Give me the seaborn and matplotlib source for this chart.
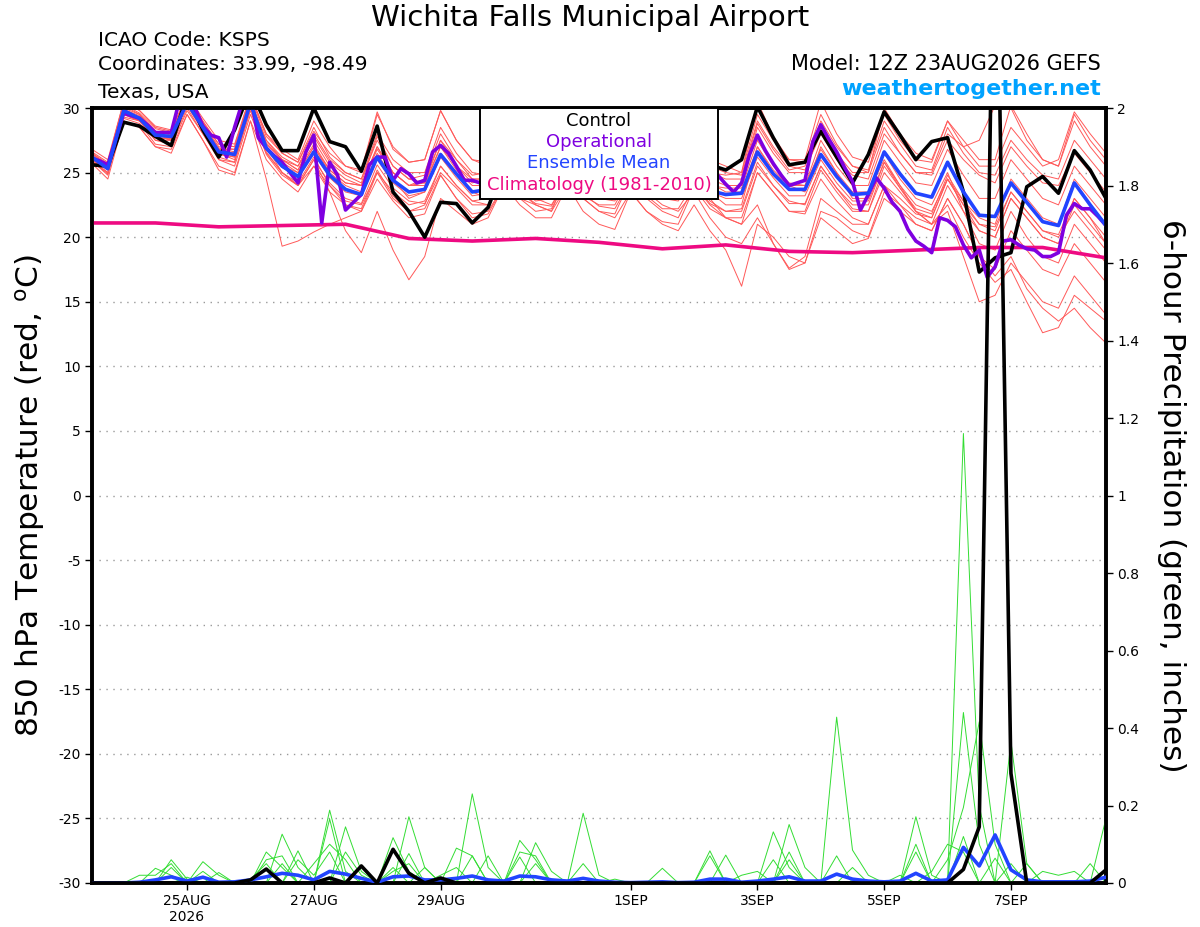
import numpy as np
import pandas as pd
import matplotlib
matplotlib.use("Agg")
import matplotlib.pyplot as plt
from matplotlib.patches import Rectangle
import seaborn as sns

# ---- forecast data (read off the GEFS plume) ----
# 6-hourly, 12Z 23AUG2026 -> 12Z 08SEP2026 (65 steps)
control_temp = [25.6, 25.5, 28.9, 28.6, 27.8, 27.1, 31.0, 28.3, 26.2, 28.3, 31.5, 28.7, 26.7,
                26.7, 30.0, 27.4, 27.0, 25.1, 28.6, 23.5, 22.0, 20.0, 22.7, 22.6, 21.1, 22.3,
                25.5, 24.2, 23.8, 24.5, 27.5, 25.6, 24.8, 24.6, 27.8, 26.0, 25.2, 25.0, 27.4,
                25.6, 25.2, 26.0, 30.1, 27.7, 25.6, 25.8, 28.2, 26.2, 24.2, 26.4, 29.7, 27.9,
                26.0, 27.4, 27.7, 23.5, 17.3, 18.4, 18.8, 23.9, 24.7, 23.4, 26.7, 25.2, 23.0]

mean_temp = [26.2, 25.3, 29.8, 29.2, 27.9, 27.8, 30.4, 28.5, 26.6, 26.4, 30.4, 26.9, 25.5,
             24.7, 26.6, 24.8, 23.7, 23.3, 26.2, 24.4, 23.5, 23.7, 26.4, 24.9, 23.5, 23.7,
             25.8, 24.5, 23.6, 23.6, 25.6, 24.4, 23.5, 23.4, 25.7, 24.5, 23.7, 23.6, 25.4,
             23.6, 23.3, 23.4, 26.6, 24.9, 23.7, 23.7, 26.4, 24.7, 23.3, 23.4, 26.6, 24.9,
             23.4, 23.1, 25.8, 23.5, 21.7, 21.6, 24.2, 22.7, 21.2, 20.9, 24.2, 22.5, 20.9]

# operational run is 3-hourly (129 steps)
oper_temp = [26.1, 25.9, 25.6, 27.6, 29.6, 29.4, 29.2, 28.7, 28.1, 28.1, 28.1, 30.5, 31.5,
             30.0, 28.6, 27.9, 27.7, 26.2, 28.5, 30.5, 31.0, 27.7, 26.9, 26.3, 25.8, 25.0,
             24.2, 26.6, 27.9, 21.1, 25.8, 24.8, 22.1, 22.7, 23.3, 25.6, 26.2, 26.2, 24.4,
             25.3, 24.9, 24.2, 24.4, 26.6, 27.1, 26.5, 25.5, 24.4, 24.4, 24.2,
             24.5, 25.2, 26.0, 25.4, 24.8, 24.3, 24.0, 23.9, 24.2, 24.9, 25.8, 25.2, 24.6,
             24.2, 23.9, 23.8, 24.1, 24.9, 26.0, 25.4, 24.6, 24.2, 23.8, 23.7, 24.2, 25.0,
             25.9, 25.3, 25.0,
             24.8, 24.1, 23.5, 24.2, 26.4, 27.9, 26.7, 25.7, 24.8, 24.0, 24.2, 24.4, 27.4,
             28.7, 27.6, 26.6, 25.4, 24.3, 22.1, 23.3, 24.6, 23.8, 22.7, 22.0, 20.6, 19.7,
             19.3, 18.8, 21.5, 21.3, 20.8, 19.4, 18.4, 19.0, 16.9, 17.7, 19.7, 19.8, 19.4,
             19.1, 19.0, 18.5, 18.5, 18.8, 21.7, 22.6, 22.2, 22.2, 21.6, 20.9]

# daily climatology (1981-2010), 12Z values
clim_temp = [21.1, 21.1, 20.8, 20.9, 21.0, 19.9, 19.7, 19.9, 19.6, 19.1, 19.4, 18.9, 18.8,
             19.0, 19.2, 19.2, 18.4]

# ensemble members, 850 hPa temperature
m01 = [26.8, 26.0, 30.5, 29.8, 28.5, 28.2, 31.0, 29.0, 27.2, 27.0, 31.0, 28.0, 26.8, 26.0, 29.0, 27.0, 25.5,
       25.0, 29.5, 27.0, 25.8, 26.0, 29.8, 27.5, 26.0, 25.5, 28.0, 26.5, 25.0, 25.0, 27.5, 26.0, 25.0,
       24.8, 28.0, 26.5, 25.5, 25.0, 27.0, 25.0, 24.8, 25.0, 30.5, 27.8, 26.0, 25.8, 29.5, 27.2, 25.5,
       25.0, 30.0, 28.0, 26.5, 26.0, 29.0, 27.5, 26.0, 26.0, 30.2, 28.0, 26.0, 25.5, 29.5, 27.5, 26.0]
m02 = [25.8, 25.0, 29.0, 28.5, 27.0, 26.8, 29.5, 27.5, 25.5, 25.0, 29.0, 24.5, 19.3, 19.7, 20.4, 21.0, 21.5,
       22.0, 25.0, 23.0, 22.0, 22.5, 25.5, 24.0, 22.8, 23.0, 24.5, 23.5, 22.5, 22.0, 24.0, 23.0, 22.0,
       21.8, 24.5, 23.0, 22.0, 21.5, 24.0, 22.5, 21.5, 21.0, 25.0, 23.5, 22.0, 21.8, 24.5, 22.8, 21.5,
       21.0, 24.0, 22.5, 21.0, 20.5, 23.0, 21.0, 18.5, 17.5, 20.5, 19.0, 17.5, 17.0, 19.5, 18.0, 16.5]
m03 = [26.5, 25.5, 30.0, 29.5, 28.0, 27.5, 30.5, 28.8, 26.0, 25.8, 30.0, 27.0, 25.0, 24.0, 26.0, 23.5, 20.5,
       18.8, 22.0, 19.0, 16.7, 18.5, 23.0, 22.0, 21.0, 21.5, 24.0, 23.0, 22.5, 22.0, 25.0, 24.0, 23.0,
       23.0, 25.5, 24.5, 23.5, 23.0, 25.0, 23.5, 22.5, 22.5, 27.0, 25.0, 24.0, 23.5, 27.0, 25.0, 23.0,
       23.0, 26.5, 24.5, 23.0, 22.5, 25.0, 22.0, 19.5, 19.0, 22.0, 20.0, 18.5, 18.0, 21.0, 19.5, 18.0]
m04 = [26.0, 25.2, 29.5, 29.0, 27.5, 27.5, 30.2, 28.2, 26.5, 26.0, 30.2, 27.0, 25.5, 25.0, 27.0, 25.0, 24.0,
       23.5, 26.5, 24.5, 23.0, 23.5, 26.5, 25.0, 23.5, 23.0, 25.5, 24.0, 23.0, 22.5, 24.5, 23.0, 22.0,
       21.5, 23.5, 22.0, 21.0, 20.5, 22.5, 20.5, 19.0, 16.2, 21.0, 20.0, 18.5, 18.0, 22.0, 21.5, 20.5,
       20.0, 23.5, 22.5, 21.5, 21.0, 24.0, 22.0, 20.5, 20.0, 23.0, 21.5, 20.0, 19.5, 22.5, 21.0, 19.5]
m05 = [26.3, 25.5, 29.8, 29.0, 28.0, 27.8, 30.4, 28.5, 26.8, 26.5, 30.5, 27.5, 26.0, 25.5, 27.5, 25.5, 24.5,
       24.0, 27.0, 25.0, 24.0, 24.0, 27.0, 25.5, 24.5, 24.5, 26.5, 25.0, 24.0, 24.0, 26.0, 24.5, 23.5,
       23.5, 26.0, 24.5, 23.5, 23.0, 25.0, 23.0, 21.5, 21.0, 22.5, 19.5, 17.5, 18.0, 21.5, 20.5, 19.5,
       19.9, 23.0, 22.0, 21.0, 20.5, 23.0, 21.0, 18.5, 17.0, 18.5, 16.0, 14.5, 13.5, 14.5, 13.0, 11.8]
m06 = [26.0, 25.0, 29.5, 29.0, 27.8, 27.5, 30.5, 28.6, 26.8, 26.8, 30.3, 27.2, 26.0, 25.2, 27.2, 25.2, 24.2,
       24.0, 26.8, 25.0, 24.0, 24.2, 27.0, 25.2, 24.0, 24.0, 26.2, 25.0, 24.0, 24.2, 26.5, 25.0, 24.0,
       24.0, 26.2, 25.0, 24.0, 24.0, 26.0, 24.2, 23.5, 23.5, 27.0, 25.2, 24.0, 24.0, 26.8, 25.0, 23.5,
       23.5, 26.0, 24.0, 22.0, 21.0, 22.5, 20.0, 18.0, 16.5, 17.5, 15.0, 12.6, 13.0, 15.5, 14.5, 13.5]
m07 = [26.4, 25.6, 30.2, 29.5, 28.2, 28.0, 30.8, 28.8, 27.0, 26.8, 30.6, 27.5, 26.2, 25.5, 28.0, 26.0, 25.0,
       24.5, 27.5, 25.5, 24.5, 24.2, 27.5, 26.0, 24.5, 24.5, 27.0, 25.5, 24.5, 24.5, 26.5, 25.0, 24.5,
       24.5, 27.0, 25.5, 24.5, 24.2, 26.5, 24.5, 24.0, 24.0, 28.5, 26.5, 25.0, 25.0, 28.5, 26.5, 25.0,
       25.0, 28.5, 26.5, 25.0, 25.0, 28.0, 27.0, 27.5, 30.2, 30.0, 27.5, 26.0, 25.5, 29.0, 27.0, 25.5]
m08 = [25.9, 24.8, 29.2, 28.8, 27.2, 27.0, 29.8, 28.0, 26.0, 25.5, 29.5, 26.5, 25.0, 24.0, 25.5, 24.0, 22.8,
       22.5, 25.0, 23.5, 22.5, 22.8, 25.5, 24.0, 22.8, 22.5, 25.0, 23.8, 22.8, 23.0, 25.0, 24.0, 23.0,
       22.8, 25.0, 23.8, 23.0, 22.8, 24.5, 22.8, 22.0, 22.0, 25.5, 24.0, 22.8, 22.5, 25.5, 23.8, 22.5,
       22.5, 25.8, 24.0, 22.5, 22.0, 24.5, 22.5, 20.5, 20.0, 23.0, 21.5, 20.0, 19.5, 23.0, 21.5, 19.5]
m09 = [26.6, 25.8, 30.5, 29.8, 28.6, 28.3, 31.0, 29.2, 27.5, 27.2, 31.0, 28.0, 26.5, 25.8, 28.5, 26.2, 25.0,
       24.5, 28.0, 26.0, 25.0, 25.0, 28.5, 26.5, 25.0, 24.8, 26.5, 25.2, 24.2, 24.0, 26.0, 24.8, 23.8,
       23.8, 26.2, 25.0, 24.0, 24.0, 25.8, 24.0, 23.8, 23.8, 27.5, 25.5, 24.2, 24.0, 27.5, 25.5, 24.0,
       24.0, 27.5, 25.8, 24.2, 24.0, 26.8, 24.8, 23.0, 23.0, 26.0, 24.5, 23.0, 22.5, 25.5, 24.0, 22.5]
m10 = [25.7, 24.5, 29.0, 28.5, 27.0, 26.5, 29.5, 27.5, 25.2, 24.8, 29.0, 26.0, 24.5, 23.5, 25.5, 23.5, 22.5,
       22.0, 24.5, 22.8, 21.5, 21.8, 24.8, 23.0, 21.8, 22.0, 24.0, 23.0, 22.0, 22.2, 24.5, 23.2, 22.5,
       22.5, 24.8, 23.5, 22.5, 22.0, 23.5, 21.5, 20.0, 19.5, 21.5, 19.5, 17.6, 18.5, 23.0, 22.0, 21.0,
       21.0, 24.0, 23.0, 21.8, 21.5, 24.5, 22.5, 21.0, 20.8, 23.5, 22.0, 20.5, 20.0, 22.0, 20.5, 19.0]
m11 = [26.2, 25.4, 29.6, 29.2, 28.0, 27.8, 30.4, 28.4, 26.6, 26.4, 30.4, 27.0, 25.8, 25.0, 27.0, 25.2, 24.2,
       24.0, 27.0, 25.0, 24.0, 24.5, 27.5, 25.5, 24.2, 24.5, 27.0, 25.5, 24.5, 24.5, 27.0, 25.5, 24.5,
       24.8, 27.5, 25.8, 24.8, 24.8, 27.0, 25.0, 24.5, 24.5, 28.8, 26.8, 25.2, 25.5, 29.0, 27.0, 25.5,
       25.2, 29.0, 27.2, 25.5, 25.2, 28.5, 26.5, 25.0, 24.8, 27.5, 26.0, 24.8, 24.5, 27.5, 26.0, 24.5]
m12 = [26.1, 25.2, 29.7, 29.0, 27.7, 27.6, 30.2, 28.4, 26.5, 26.2, 30.2, 26.8, 25.4, 24.6, 26.5, 24.6, 23.5,
       23.2, 26.0, 24.2, 23.2, 23.5, 26.2, 24.6, 23.2, 23.4, 25.5, 24.2, 23.2, 23.2, 25.2, 24.0, 23.0,
       23.0, 25.2, 24.0, 23.2, 23.2, 25.2, 23.5, 23.0, 23.0, 26.2, 24.6, 23.2, 23.2, 26.0, 24.2, 22.8,
       22.8, 25.8, 23.8, 22.0, 21.0, 22.0, 18.5, 15.0, 15.5, 18.0, 16.5, 15.0, 14.5, 17.0, 15.5, 14.0]
m13 = [26.5, 25.7, 30.3, 29.6, 28.4, 28.1, 30.8, 28.9, 27.2, 27.0, 30.8, 27.8, 26.5, 25.8, 28.2, 26.5, 25.5,
       25.2, 29.7, 26.8, 25.8, 26.0, 29.8, 27.5, 26.0, 25.8, 28.5, 27.0, 26.0, 25.8, 28.0, 26.5, 25.5,
       25.5, 28.2, 26.8, 25.8, 25.5, 27.8, 26.0, 25.5, 25.0, 29.5, 27.5, 26.0, 26.0, 30.5, 28.0, 26.2,
       25.8, 29.5, 27.5, 26.0, 25.8, 29.0, 27.0, 25.5, 25.5, 28.5, 27.0, 25.5, 26.0, 29.7, 28.0, 26.5]
m14 = [25.9, 24.9, 29.3, 29.0, 27.5, 27.2, 30.0, 28.0, 26.2, 25.8, 29.8, 26.4, 24.8, 24.0, 26.0, 24.2, 23.0,
       22.6, 25.6, 23.8, 22.8, 22.6, 25.0, 23.8, 22.5, 22.5, 24.8, 23.5, 22.6, 22.4, 24.6, 23.4, 22.4,
       22.2, 24.4, 23.2, 22.2, 22.2, 24.2, 22.6, 22.0, 22.2, 25.8, 24.0, 22.6, 22.6, 25.5, 23.8, 22.2,
       22.0, 25.5, 23.8, 22.2, 21.8, 24.8, 22.8, 21.0, 20.5, 23.5, 22.0, 20.5, 20.2, 23.0, 21.5, 20.0]
m15 = [26.3, 25.3, 29.8, 29.3, 28.0, 27.6, 30.3, 28.3, 26.4, 26.2, 30.0, 26.6, 25.0, 24.2, 26.2, 24.0, 22.5,
       22.2, 25.2, 23.2, 22.0, 22.2, 24.8, 23.0, 21.5, 21.8, 24.0, 22.5, 21.5, 21.5, 24.0, 22.0, 21.0,
       20.6, 23.5, 22.0, 21.2, 21.0, 23.8, 22.2, 21.5, 21.5, 25.0, 23.5, 22.0, 22.0, 25.2, 23.5, 22.0,
       22.0, 25.0, 23.5, 22.0, 21.5, 24.5, 22.8, 21.5, 21.0, 24.5, 23.0, 21.5, 21.0, 24.5, 23.0, 21.5]
m16 = [26.2, 25.3, 29.9, 29.4, 28.2, 27.9, 30.6, 28.7, 26.9, 26.6, 30.6, 27.3, 26.0, 25.2, 27.8, 25.8, 24.8,
       24.2, 27.8, 25.5, 24.5, 24.8, 28.0, 26.0, 24.8, 25.0, 27.5, 26.0, 25.0, 25.0, 27.8, 26.0, 25.0,
       25.0, 27.5, 26.0, 25.2, 25.0, 27.5, 25.5, 25.0, 24.8, 29.0, 27.0, 25.5, 25.2, 28.0, 26.0, 24.8,
       24.5, 28.0, 26.5, 25.0, 24.8, 27.5, 26.0, 24.8, 24.2, 27.0, 25.5, 24.2, 24.0, 26.5, 25.0, 23.5]
temp_members = [m01, m02, m03, m04, m05, m06, m07, m08, m09, m10, m11, m12, m13, m14, m15, m16]

# 6-hour precipitation (inches)
control_pcp = [0, 0, 0, 0, 0, 0, 0, 0, 0, 0, 0.008, 0.036, 0, 0, 0, 0.013, 0,
               0.044, 0, 0.087, 0.025, 0, 0.013, 0, 0, 0, 0, 0, 0, 0, 0, 0, 0,
               0, 0, 0, 0, 0, 0, 0, 0, 0, 0, 0, 0, 0, 0, 0, 0,
               0, 0, 0, 0, 0, 0, 0.035, 0.145, 2.75, 0.283, 0, 0, 0, 0, 0, 0.034]
mean_pcp = [0, 0, 0, 0.002, 0.008, 0.016, 0.005, 0.015, 0.002, 0.003, 0.008, 0.016, 0.025,
            0.02, 0.008, 0.03, 0.023, 0.012, 0.002, 0.016, 0.018, 0.008, 0.008, 0.012, 0.018,
            0.008, 0.005, 0.018, 0.016, 0.008, 0.005, 0.012, 0.005, 0.002, 0.001, 0.002, 0.003,
            0.001, 0.002, 0.01, 0.01, 0.002, 0.005, 0.01, 0.016, 0.005, 0.005, 0.023, 0.01,
            0.005, 0.003, 0.005, 0.025, 0.005, 0.008, 0.092, 0.044, 0.124, 0.034, 0.008, 0.003,
            0.003, 0.003, 0.005, 0.015]

# members: {step index: amount}, all other steps dry
p01 = {4: 0.038, 5: 0.02, 11: 0.08, 12: 0.04, 15: 0.188, 16: 0.03, 20: 0.171, 21: 0.04, 27: 0.11,
       28: 0.06, 43: 0.132, 44: 0.04, 52: 0.171, 53: 0.02, 55: 1.16, 56: 0.2, 58: 0.05}
p02 = {5: 0.06, 6: 0.01, 12: 0.126, 13: 0.04, 16: 0.145, 17: 0.03, 24: 0.23, 25: 0.04, 31: 0.18,
       32: 0.02, 47: 0.428, 48: 0.085, 49: 0.02, 55: 0.44, 56: 0.1, 64: 0.167}
p03 = {7: 0.055, 8: 0.02, 13: 0.083, 15: 0.165, 19: 0.117, 20: 0.03, 23: 0.09, 24: 0.07, 28: 0.104,
       29: 0.03, 39: 0.083, 44: 0.151, 45: 0.04, 54: 0.06, 55: 0.195, 56: 0.416, 57: 0.1}
p04 = {3: 0.02, 4: 0.02, 5: 0.05, 8: 0.027, 11: 0.06, 12: 0.07, 16: 0.08, 17: 0.02, 20: 0.076,
       25: 0.07, 27: 0.067, 36: 0.038, 40: 0.072, 44: 0.08, 52: 0.1, 58: 0.365, 59: 0.05}
p05 = {5: 0.04, 7: 0.03, 10: 0.01, 11: 0.05, 13: 0.06, 14: 0.02, 15: 0.08, 19: 0.04, 21: 0.04,
       24: 0.07, 28: 0.05, 31: 0.05, 39: 0.07, 43: 0.06, 47: 0.07, 52: 0.08, 55: 0.12, 57: 0.064,
       59: 0.05, 63: 0.05}
p06 = {6: 0.015, 12: 0.05, 14: 0.05, 15: 0.1, 16: 0.06, 19: 0.03, 20: 0.05, 22: 0.02, 23: 0.04,
       27: 0.08, 28: 0.07, 33: 0.01, 41: 0.02, 42: 0.03, 44: 0.06, 48: 0.04, 51: 0.02, 53: 0.03,
       54: 0.1, 55: 0.08, 60: 0.03, 61: 0.02, 62: 0.03, 64: 0.03}
pcp_members = [p01, p02, p03, p04, p05, p06]

tick_days = ["2026-08-25", "2026-08-27", "2026-08-29", "2026-09-01", "2026-09-03",
             "2026-09-05", "2026-09-07"]
tick_labels = ["25AUG\n2026", "27AUG", "29AUG", "1SEP", "3SEP", "5SEP", "7SEP"]

# ---- build frames ----
times = pd.date_range("2026-08-23 12:00", periods=len(mean_temp), freq="6h")
times_oper = pd.date_range("2026-08-23 12:00", periods=len(oper_temp), freq="3h")
times_clim = pd.date_range("2026-08-23 12:00", periods=len(clim_temp), freq="D")

ens_t = pd.DataFrame([(k, times[i], v) for k, m in enumerate(temp_members) for i, v in enumerate(m)],
                     columns=["member", "time", "temp"])
rows = []
for k, p in enumerate(pcp_members):
    for i in range(len(times)):
        rows.append((k, times[i], p.get(i, 0.0)))
ens_p = pd.DataFrame(rows, columns=["member", "time", "pcp"])

# ---- plot ----
sns.set_style("ticks")
plt.rcParams["font.family"] = ["DejaVu Sans"]
plt.rcParams["axes.unicode_minus"] = False
for key in ("text.color", "axes.labelcolor", "xtick.color", "ytick.color"):
    plt.rcParams[key] = "black"

fig = plt.figure(figsize=(12, 9.27), dpi=100)
ax = fig.add_axes([92 / 1200, 1 - 883 / 927, 1014 / 1200, 775 / 927])
ax2 = ax.twinx()

red, green = "#ff5959", "#33dd33"
purple, blue, magenta = "#7f00e0", "#2244ff", "#ee0a82"

sns.lineplot(data=ens_t, x="time", y="temp", units="member", estimator=None,
             color=red, lw=0.7, ax=ax, legend=False)
ax.plot(times_clim, clim_temp, color=magenta, lw=2.6, zorder=3)
ax.plot(times, control_temp, color="black", lw=2.6, zorder=4)
ax.plot(times_oper, oper_temp, color=purple, lw=2.6, zorder=5)
ax.plot(times, mean_temp, color=blue, lw=2.6, zorder=6)

sns.lineplot(data=ens_p, x="time", y="pcp", units="member", estimator=None,
             color=green, lw=0.7, ax=ax2, legend=False)
ax2.plot(times, mean_pcp, color=blue, lw=2.6, zorder=4)
ax2.plot(times, control_pcp, color="black", lw=2.6, zorder=5)

ax.set_xlim(times[0], times[-1])
ax.set_ylim(-30, 30)
ax2.set_ylim(0, 2)
ax.set_yticks(np.arange(-30, 31, 5))
ax2.set_yticks(np.arange(0, 2.01, 0.2))
ax2.set_yticklabels([f"{v:g}" for v in np.round(np.arange(0, 2.01, 0.2), 1)])
ax.set_xticks(pd.to_datetime(tick_days))
ax.set_xticklabels(tick_labels)

ax.yaxis.grid(True, linestyle=(0, (1, 4)), color="#999999", lw=1.0)
ax.xaxis.grid(False)
ax.tick_params(axis="both", labelsize=10, length=5, width=1, direction="out", pad=3)
ax2.tick_params(axis="y", labelsize=10, length=5, width=1, direction="out", pad=3)
for a in (ax, ax2):
    for s in a.spines.values():
        s.set_linewidth(2.6)
        s.set_color("black")
        s.set_visible(True)

ax.set_xlabel("")
ax.set_ylabel("850 hPa Temperature (red, $^\\mathregular{o}$C)", fontsize=22.5, va="center")
ax.yaxis.set_label_coords(-0.061, 0.5)
ax2.set_ylabel("6-hour Precipitation (green, inches)", fontsize=22.5, rotation=-90, va="center")
ax2.yaxis.set_label_coords(1.065, 0.5)

# legend box
ax2.add_patch(Rectangle((0.3826, 0.8826), 0.2348, 0.1174, transform=ax2.transAxes,
                        facecolor="white", edgecolor="black", lw=1.4, zorder=20, clip_on=False))
for txt, col, yy in [("Control", "black", 0.983), ("Operational", purple, 0.956),
                     ("Ensemble Mean", blue, 0.929), ("Climatology (1981-2010)", magenta, 0.9006)]:
    ax2.text(0.5, yy, txt, color=col, fontsize=13, ha="center", va="center",
             transform=ax2.transAxes, zorder=21)

# header
fig.text(590 / 1200, 1 - 18 / 927, "Wichita Falls Municipal Airport", fontsize=21,
         ha="center", va="center")
for txt, yy in [("ICAO Code: KSPS", 40), ("Coordinates: 33.99, -98.49", 65), ("Texas, USA", 92)]:
    fig.text(98 / 1200, 1 - yy / 927, txt, fontsize=14.5, ha="left", va="center")
fig.text(1101 / 1200, 1 - 64 / 927, "Model: 12Z 23AUG2026 GEFS", fontsize=15, ha="right", va="center")
fig.text(1101 / 1200, 1 - 89 / 927, "weathertogether.net", fontsize=16, fontweight="bold",
         color="#00a2ff", ha="right", va="center")

fig.savefig("out.png", dpi=100)
